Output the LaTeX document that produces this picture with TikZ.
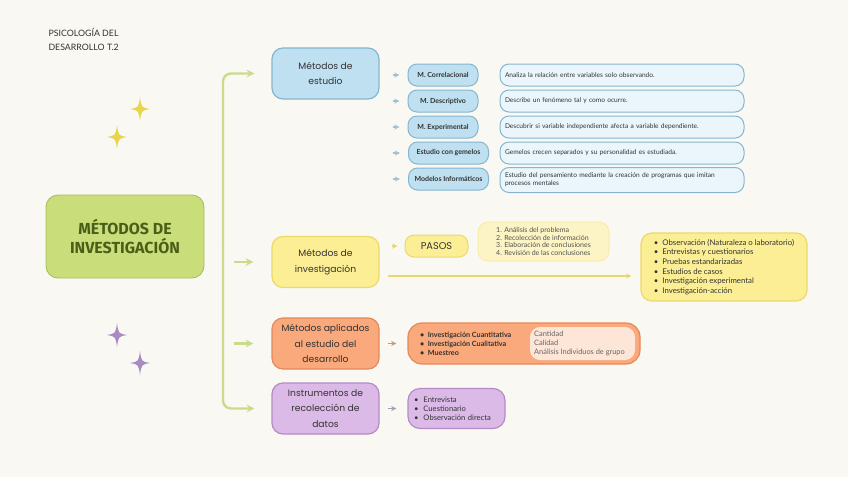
\documentclass[tikz,border=0pt]{standalone}
\usepackage{fontspec}
\setmainfont{Lato}
\newfontfamily\headfont{Poppins}
\newfontfamily\bigfont{Fira Sans}
\usepackage{xcolor}
\usetikzlibrary{positioning,shapes,arrows,calc,backgrounds}

\definecolor{paper}{HTML}{FAF8F3}
\definecolor{ink}{HTML}{333333}
\definecolor{trunkgreen}{HTML}{CADB8C}
\definecolor{mainfill}{HTML}{C9DE7A}
\definecolor{mainline}{HTML}{A3BC5C}
\definecolor{maintext}{HTML}{4A5E18}
\definecolor{bluefill}{HTML}{BEE0F1}
\definecolor{blueline}{HTML}{86B6CE}
\definecolor{bluepale}{HTML}{EAF6FC}
\definecolor{bluearrow}{HTML}{9CC3D8}
\definecolor{yelfill}{HTML}{FBEE95}
\definecolor{yelline}{HTML}{EDD96A}
\definecolor{yelpale}{HTML}{FCF4C4}
\definecolor{yelarrow}{HTML}{E8D86E}
\definecolor{orafill}{HTML}{F9A97B}
\definecolor{oraline}{HTML}{E28A5C}
\definecolor{orapale}{HTML}{FDE6D7}
\definecolor{oraarrow}{HTML}{C9967A}
\definecolor{purfill}{HTML}{DCBAE8}
\definecolor{purline}{HTML}{B58BC6}
\definecolor{purarrow}{HTML}{A99AB2}
\definecolor{staryel}{HTML}{E8D44D}
\definecolor{starpur}{HTML}{A98BC4}

% four pointed star: x, y, radius, colour
\newcommand{\sparkle}[4]{%
  \fill[#4] ({#1},{#2-#3}) .. controls ({#1+0.12*#3},{#2-0.12*#3}) .. ({#1+0.85*#3},{#2})
    .. controls ({#1+0.12*#3},{#2+0.12*#3}) .. ({#1},{#2+#3})
    .. controls ({#1-0.12*#3},{#2+0.12*#3}) .. ({#1-0.85*#3},{#2})
    .. controls ({#1-0.12*#3},{#2-0.12*#3}) .. cycle;}

\begin{document}
\begin{tikzpicture}[x=1pt, y=-1pt,
    mainbox/.style={draw=mainline, fill=mainfill, line width=0.8pt, rounded corners=12pt,
      minimum width=158pt, minimum height=83pt, align=center, inner sep=0pt,
      font=\bigfont\bfseries\fontsize{16}{19}\selectfont, text=maintext},
    headbox/.style={line width=1.2pt, rounded corners=11pt, minimum width=107pt,
      minimum height=51pt, align=center, inner sep=0pt,
      font=\headfont\fontsize{9.2}{15.5}\selectfont, text=ink},
    pill/.style={draw=blueline, fill=bluefill, line width=1pt, rounded corners=9pt,
      minimum width=70pt, minimum height=22pt, inner sep=1pt,
      font=\bfseries\fontsize{7}{8}\selectfont, text=ink},
    descbox/.style={draw=blueline, fill=bluepale, line width=1pt, rounded corners=9pt,
      minimum height=22pt, text width=234pt, inner xsep=5pt, inner ysep=2pt, align=left,
      font=\fontsize{6.6}{8}\selectfont, text=ink},
    trunk/.style={draw=trunkgreen, line width=2.4pt, -stealth},
    tip/.style={line width=1.3pt, -stealth}]

    \fill[paper] (0,0) rectangle (848,477);

    \node[anchor=north west, align=left, font=\fontsize{8.8}{13.5}\selectfont, text=ink]
        (title) at (45,25) {PSICOLOGÍA DEL\\DESARROLLO T.2};

    \sparkle{140}{109}{12}{staryel}
    \sparkle{117}{137}{12}{staryel}
    \sparkle{117}{335}{12}{starpur}
    \sparkle{140}{363}{12}{starpur}

    \node[mainbox] (main) at (125,236.5) {MÉTODOS DE\\INVESTIGACIÓN};

    \node[headbox, draw=blueline, fill=bluefill] (estudio) at (325.5,73.5) {Métodos de\\estudio};
    \node[headbox, draw=yelline, fill=yelfill] (invest) at (325.5,262) {Métodos de\\investigación};
    \node[headbox, draw=oraline, fill=orafill] (aplicados) at (325.5,343.5)
        {Métodos aplicados\\al estudio del\\desarrollo};
    \node[headbox, draw=purline, fill=purfill] (instr) at (325.5,408.5)
        {Instrumentos de\\recolección de\\datos};

    % green trunk
    \coordinate (spine) at (223,243);
    \draw[trunk, rounded corners=8pt, shorten >=17pt] (spine) |- (estudio.west);
    \draw[trunk, rounded corners=8pt, shorten >=17pt] (spine) |- (instr.west);
    \draw[trunk, shorten <=11pt, shorten >=18pt] (spine |- invest.west) -- (invest.west);
    \draw[trunk, shorten <=11pt, shorten >=18pt] (spine |- aplicados.west) -- (aplicados.west);

    % metodos de estudio
    \foreach \name/\y/\lab in {m1/75/M. Correlacional, m2/101/M. Descriptivo, m3/127/M. Experimental}
        \node[pill] (\name) at (443,\y) {\lab};
    \foreach \name/\y/\lab in {m4/153/Estudio con gemelos, m5/179/Modelos Informáticos}
        \node[pill, minimum width=80pt] (\name) at (448.5,\y) {\lab};
    \foreach \name/\y/\lab in {d1/75/Analiza la relación entre variables solo observando.,
        d2/101/Describe un fenómeno tal y como ocurre.,
        d3/127/Descubrir si variable independiente afecta a variable dependiente.,
        d4/153/Gemelos crecen separados y su personalidad es estudiada.}
        \node[descbox] (\name) at (622,\y) {\lab};
    \node[descbox, minimum height=25pt] (d5) at (622,180)
        {Estudio del pensamiento mediante la creación de programas que imitan\\procesos mentales};
    \foreach \n in {m1,m2,m3,m4,m5}
        \draw[tip, draw=bluearrow, shorten <=13pt, shorten >=8pt] (estudio.east |- \n.west) -- (\n.west);

    % metodos de investigacion
    \node[draw=yelline, fill=yelfill, line width=1pt, rounded corners=9pt,
        minimum width=63pt, minimum height=22pt, font=\headfont\fontsize{9.8}{10}\selectfont,
        text=ink] (pasos) at (436.5,246) {PASOS};
    \node[draw=yelpale!70!yelline, fill=yelpale, line width=1pt, rounded corners=10pt,
        minimum width=131pt, minimum height=39pt, align=left, inner sep=0pt,
        font=\fontsize{7}{7.8}\selectfont, text=ink!85] (steps) at (543.5,241.5)
        {1. Análisis del problema\\2. Recolección de información\\3. Elaboración de conclusiones\\4. Revisión de las conclusiones};
    \node[draw=yelline, fill=yelfill, line width=1.2pt, rounded corners=11pt,
        minimum width=166pt, minimum height=68pt, align=left, inner sep=0pt,
        font=\fontsize{7.8}{9.6}\selectfont, text=ink] (tecnicas) at (724,267)
        {\textbullet\ \ Observación (Naturaleza o laboratorio)\\\textbullet\ \ Entrevistas y cuestionarios\\
         \textbullet\ \ Pruebas estandarizadas\\\textbullet\ \ Estudios de casos\\
         \textbullet\ \ Investigación experimental\\\textbullet\ \ Investigación-acción};
    \draw[tip, draw=yelarrow, shorten <=12pt, shorten >=7pt] (invest.east |- pasos.west) -- (pasos.west);
    \coordinate (low) at ([yshift=-14pt]invest.east);
    \draw[tip, draw=yelarrow, shorten <=8pt, shorten >=9pt] (low) -- (tecnicas.west |- low);

    % metodos aplicados
    \node[draw=oraline, fill=orafill, line width=1.2pt, rounded corners=14pt,
        minimum width=232pt, minimum height=41pt] (tipos) at (524,343.5) {};
    \node[fill=orapale, rounded corners=10pt, minimum width=105pt, minimum height=33pt]
        (pale) at (582.5,343.5) {};
    \node[anchor=west, align=left, inner sep=0pt, font=\bfseries\fontsize{7.2}{9}\selectfont, text=ink]
        (tipolist) at (420,343.5)
        {\textbullet\ \ Investigación Cuantitativa\\\textbullet\ \ Investigación Cualitativa\\\textbullet\ \ Muestreo};
    \node[anchor=west, align=left, inner sep=0pt, font=\fontsize{7.4}{9}\selectfont, text=ink!75]
        (enfoque) at (534,343.5) {Cantidad\\Calidad\\Análisis Individuos de grupo};
    \draw[tip, draw=oraarrow, shorten <=8pt, shorten >=11pt] (aplicados.east) -- (tipos.west);

    % instrumentos
    \node[draw=purline, fill=purfill, line width=1.2pt, rounded corners=12pt,
        minimum width=97pt, minimum height=40pt, align=left, inner sep=0pt,
        font=\fontsize{7.6}{9}\selectfont, text=ink, text width=85pt] (herram) at (456.5,408.5)
        {\textbullet\ \ Entrevista\\\textbullet\ \ Cuestionario\\\textbullet\ \ Observación directa};
    \draw[tip, draw=purarrow, shorten <=8pt, shorten >=11pt] (instr.east) -- (herram.west);
\end{tikzpicture}
\end{document}
